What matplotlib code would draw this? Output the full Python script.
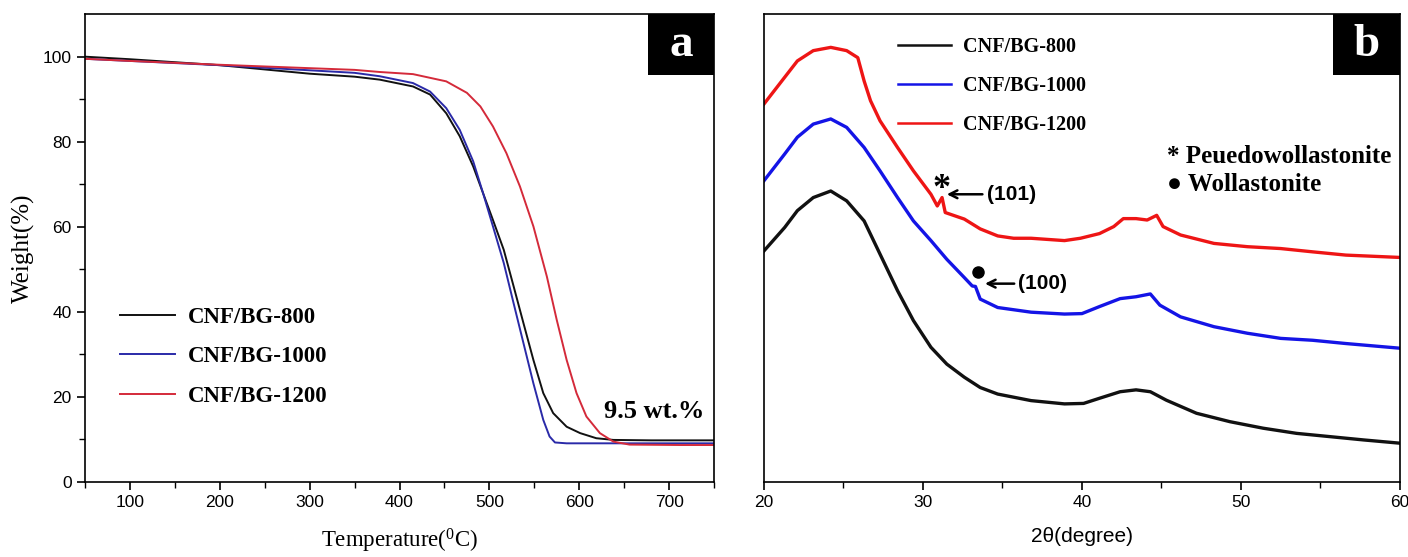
import matplotlib
matplotlib.use("Agg")
import matplotlib.pyplot as plt
from matplotlib.patches import Rectangle

plt.rcParams["mathtext.default"] = "regular"

SERIF = "Liberation Serif"
SANS = "Liberation Sans"

# ---- panel a: TGA ----
labels = ["CNF/BG-800", "CNF/BG-1000", "CNF/BG-1200"]
tga_colors = ["#111111", "#2a2aa8", "#d42a3a"]
xrd_colors = ["#111111", "#1414e6", "#ee1515"]

t_800 = [50, 100, 200, 300, 350, 378, 415, 434, 452, 467, 482, 493, 504, 516, 527, 538, 549, 560, 571, 586,
         601, 619, 638, 680, 750]
w_800 = [100, 99.4, 98.0, 96.0, 95.3, 94.6, 93.0, 91.1, 86.7, 81.3, 74.2, 67.9, 61.6, 54.6, 46.0, 37.3, 28.7, 20.9,
         16.2, 13.0, 11.5, 10.3, 9.9, 9.8, 9.8]

t_1000 = [50, 100, 200, 300, 350, 378, 415, 434, 452, 467, 482, 493, 504, 516, 527, 538, 549, 560, 567, 573,
          586, 650, 750]
w_1000 = [99.5, 99.0, 98.0, 96.8, 96.2, 95.4, 93.8, 91.8, 87.9, 82.8, 75.4, 67.9, 60.1, 51.5, 42.0, 32.6, 23.2,
          14.6, 10.7, 9.3, 9.1, 9.1, 9.1]

t_1200 = [50, 100, 200, 300, 350, 378, 415, 452, 475, 490, 504, 519, 534, 549, 564, 575, 586, 597, 608, 623,
          638, 656, 712, 750]
w_1200 = [99.5, 99.0, 98.1, 97.3, 96.9, 96.4, 95.9, 94.2, 91.5, 88.3, 83.6, 77.3, 69.5, 60.1, 48.3, 38.1, 28.7,
          20.9, 15.4, 11.5, 9.5, 8.8, 8.7, 8.7]

# ---- panel b: XRD (arbitrary intensity) ----
th_800 = [20, 21.3, 22.1, 23.1, 24.2, 25.2, 26.3, 27.3, 28.4, 29.4, 30.5, 31.5, 32.6, 33.6, 34.7, 36.8, 38.9,
          40.1, 41.1, 42.4, 43.4, 44.3, 45.3, 47.2, 49.3, 51.4, 53.5, 55.6, 57.7, 60]
i_800 = [49.4, 54.4, 58.0, 60.8, 62.2, 60.1, 55.8, 48.7, 40.9, 34.5, 28.8, 25.2, 22.4, 20.2, 18.8, 17.4, 16.7,
         16.8, 17.9, 19.3, 19.7, 19.3, 17.5, 14.7, 12.9, 11.5, 10.4, 9.7, 9.0, 8.3]

th_1000 = [20, 21.3, 22.1, 23.1, 24.2, 25.2, 26.3, 27.3, 28.4, 29.4, 30.5, 31.5, 32.6, 33.1, 33.3, 33.6, 34.7,
           36.8, 38.9, 40.0, 41.1, 42.4, 43.4, 44.3, 44.9, 46.2, 48.3, 50.4, 52.5, 54.5, 56.6, 60]
i_1000 = [64.4, 70.1, 73.7, 76.5, 77.6, 75.8, 71.5, 66.5, 60.8, 55.8, 51.6, 47.6, 43.7, 41.9, 41.8, 39.1, 37.3,
          36.3, 35.9, 36.0, 37.5, 39.2, 39.6, 40.2, 37.8, 35.3, 33.2, 31.8, 30.7, 30.3, 29.6, 28.6]

th_1200 = [20, 21.3, 22.1, 23.1, 24.2, 25.2, 25.9, 26.3, 26.7, 27.3, 28.4, 29.4, 30.5, 30.9, 31.2, 31.4, 32.6,
           33.6, 34.7, 35.7, 36.8, 38.9, 39.9, 41.1, 42.0, 42.6, 43.4, 44.1, 44.7, 45.1, 46.2, 48.3, 50.4,
           52.5, 54.5, 56.6, 60]
i_1200 = [80.8, 86.5, 90.0, 92.2, 92.9, 92.2, 90.7, 85.7, 81.5, 77.2, 71.5, 66.5, 61.5, 59.0, 60.8, 57.6, 56.2,
          54.1, 52.6, 52.1, 52.1, 51.6, 52.1, 53.1, 54.6, 56.3, 56.3, 56.0, 57.0, 54.6, 52.8, 51.0, 50.3,
          49.9, 49.2, 48.5, 48.0]

fig = plt.figure(figsize=(14.08, 5.57), dpi=100)
ax1 = fig.add_axes([0.0604, 0.1346, 0.4467, 0.840])
ax2 = fig.add_axes([0.5426, 0.1346, 0.4517, 0.840])

for t, w, lab, c in zip([t_800, t_1000, t_1200], [w_800, w_1000, w_1200], labels, tga_colors):
    ax1.plot(t, w, color=c, lw=1.4, label=lab)

ax1.set_xlim(50, 750)
ax1.set_ylim(0, 110)
ax1.set_xticks([100, 200, 300, 400, 500, 600, 700])
ax1.set_xticks(range(50, 751, 50), minor=True)
ax1.set_yticks([0, 20, 40, 60, 80, 100])
ax1.set_yticks(range(0, 101, 10), minor=True)
ax1.tick_params(which="both", direction="out", top=False, right=False)
ax1.tick_params(which="major", length=6, width=1.2, labelsize=12.5)
ax1.tick_params(which="minor", length=4, width=1.0)
for lbl in ax1.get_xticklabels() + ax1.get_yticklabels():
    lbl.set_fontfamily(SANS)
ax1.set_xlabel("Temperature($^{0}$C)", fontfamily=SERIF, fontsize=16.5, labelpad=12)
ax1.set_ylabel("Weight(%)", fontfamily=SERIF, fontsize=18, labelpad=6)
ax1.legend(loc="upper left", bbox_to_anchor=(0.022, 0.418), frameon=False, handlelength=2.4,
           handletextpad=0.6, labelspacing=0.8,
           prop={"family": SERIF, "weight": "bold", "size": 16.5})
ax1.text(0.985, 0.15, "9.5 wt.%", transform=ax1.transAxes, ha="right", va="center",
         fontfamily=SERIF, fontweight="bold", fontsize=19)

for th, inten, lab, c in zip([th_800, th_1000, th_1200], [i_800, i_1000, i_1200], labels, xrd_colors):
    ax2.plot(th, inten, color=c, lw=2.4, label=lab)

ax2.set_xlim(20, 60)
ax2.set_ylim(0, 100)
ax2.set_xticks([20, 30, 40, 50, 60])
ax2.set_xticks(range(20, 61, 5), minor=True)
ax2.set_yticks([])
ax2.tick_params(which="both", direction="out", top=False, right=False)
ax2.tick_params(which="major", length=6, width=1.2, labelsize=12.5)
ax2.tick_params(which="minor", length=4, width=1.0)
for lbl in ax2.get_xticklabels():
    lbl.set_fontfamily(SANS)
ax2.set_xlabel("2\u03b8(degree)", fontfamily=SANS, fontsize=15, labelpad=12)
leg2 = ax2.legend(loc="upper left", bbox_to_anchor=(0.183, 0.99), frameon=False, handlelength=2.6,
                  handletextpad=0.6, labelspacing=0.95,
                  prop={"family": SERIF, "weight": "bold", "size": 14.5})
for h in leg2.get_lines():
    h.set_linewidth(1.8)

ax2.text(31.15, 62.5, "*", fontfamily=SERIF, fontweight="bold", fontsize=26, ha="center", va="center")
ax2.annotate("(101)", xy=(31.5, 61.5), xytext=(34.0, 61.5), va="center", ha="left",
             fontfamily=SANS, fontweight="bold", fontsize=15,
             arrowprops=dict(arrowstyle="->", lw=1.8, color="black", shrinkA=1, shrinkB=0,
                             mutation_scale=14))
ax2.plot([33.45], [44.8], "o", color="black", ms=8)
ax2.annotate("(100)", xy=(33.9, 42.4), xytext=(36.0, 42.4), va="center", ha="left",
             fontfamily=SANS, fontweight="bold", fontsize=15,
             arrowprops=dict(arrowstyle="->", lw=1.8, color="black", shrinkA=1, shrinkB=0,
                             mutation_scale=14))
ax2.text(0.634, 0.695, "* Peuedowollastonite", transform=ax2.transAxes, ha="left", va="center",
         fontfamily=SERIF, fontweight="bold", fontsize=18)
ax2.text(0.634, 0.635, "\u25cf Wollastonite", transform=ax2.transAxes, ha="left", va="center",
         fontfamily=[SERIF, "DejaVu Sans"], fontweight="bold", fontsize=18)

for ax, letter in [(ax1, "a"), (ax2, "b")]:
    ax.add_patch(Rectangle((0.895, 0.87), 0.105, 0.13, transform=ax.transAxes,
                           facecolor="black", edgecolor="none", zorder=5))
    ax.text(0.9475, 0.935, letter, transform=ax.transAxes, ha="center", va="center",
            color="white", fontfamily=SERIF, fontweight="bold", fontsize=34, zorder=6)
    for s in ax.spines.values():
        s.set_linewidth(1.2)

fig.savefig("out.png", dpi=100)
